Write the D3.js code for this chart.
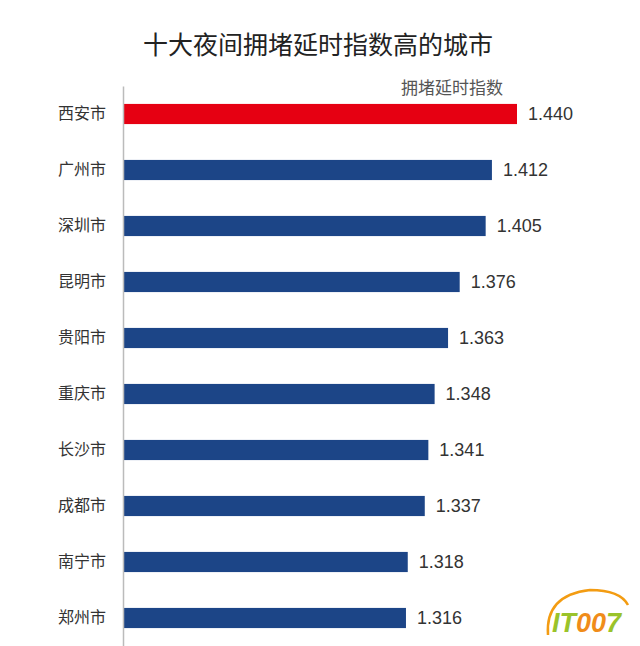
<!DOCTYPE html><html><head><meta charset="utf-8"><script src="https://cdn.jsdelivr.net/npm/d3@7"></script>
<style>body{margin:0;background:#fff}</style></head><body><svg id="c" width="640" height="646"></svg>
<script>
const cities=["西安市","广州市","深圳市","昆明市","贵阳市","重庆市","长沙市","成都市","南宁市","郑州市"];
const values=[1.440,1.412,1.405,1.376,1.363,1.348,1.341,1.337,1.318,1.316];
const colors=["#e60012","#1c4587","#1c4587","#1c4587","#1c4587","#1c4587","#1c4587","#1c4587","#1c4587","#1c4587"];
const title="十大夜间拥堵延时指数高的城市", legend="拥堵延时指数";
const svg=d3.select("#c"), F="'Noto Sans CJK SC','Noto Sans',sans-serif";
const x=d3.scaleLinear().domain([1.0,1.44]).range([123,517]);
const y=d3.scaleBand().domain(cities).range([86,646]).paddingInner(0.64).paddingOuter(0.32);
svg.append("text").attr("x",318).attr("y",54).attr("text-anchor","middle").attr("font-family",F).attr("font-size",25).attr("fill","#222").text(title);
svg.append("text").attr("x",452).attr("y",94).attr("text-anchor","middle").attr("font-family",F).attr("font-size",17).attr("fill","#555").text(legend);
svg.selectAll("rect.b").data(values).join("rect").attr("x",x(1.0)).attr("y",(d,i)=>y(cities[i])).attr("width",d=>x(d)-x(1.0)).attr("height",y.bandwidth()).attr("fill",(d,i)=>colors[i]);
svg.selectAll("text.v").data(values).join("text").attr("x",d=>x(d)+11).attr("y",(d,i)=>y(cities[i])+y.bandwidth()/2+6).attr("font-family","Arial,'Liberation Sans',sans-serif").attr("font-size",18).attr("fill","#333").text(d=>d.toFixed(3));
const ax=svg.append("g").attr("transform","translate(123,0)").call(d3.axisLeft(y).tickSize(0).tickPadding(17));
ax.select(".domain").attr("stroke","#bbb").attr("stroke-width",1.5);
ax.selectAll("text").attr("font-family",F).attr("font-size",16).attr("fill","#333");
svg.append("path").attr("d","M548,635 Q545,595 590,590 Q620,590 628,605").attr("fill","none").attr("stroke","#f39c12").attr("stroke-width",2.5);
const lg=svg.append("text").attr("x",552).attr("y",632).attr("font-family","Arial,sans-serif").attr("font-style","italic").attr("font-weight","bold").attr("font-size",27);
lg.append("tspan").attr("fill","#9ac32a").text("IT");lg.append("tspan").attr("fill","#f08c1a").text("00");lg.append("tspan").attr("fill","#9ac32a").text("7");
</script></body></html>
